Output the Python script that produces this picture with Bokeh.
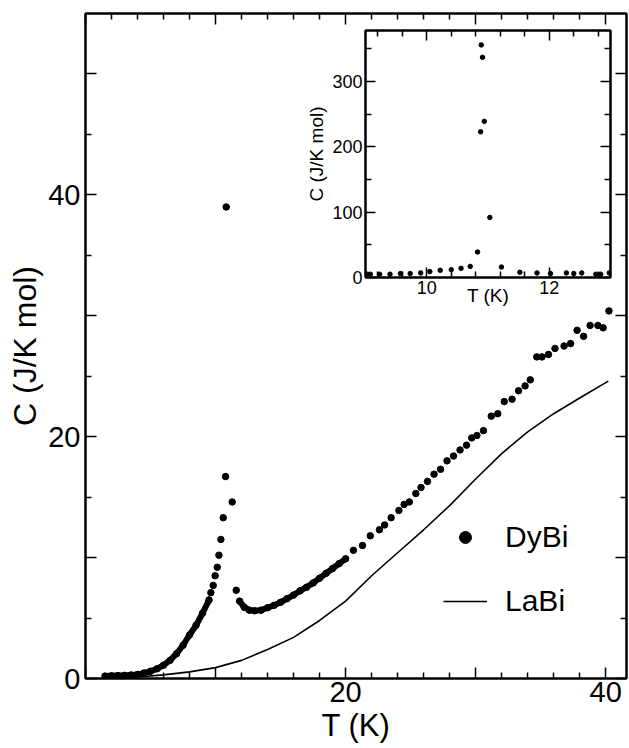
from bokeh.plotting import figure
from bokeh.models import (Range1d, LinearAxis, FixedTicker, Legend, LegendItem,
                          Column, CustomLabelingPolicy)
from bokeh.embed import file_html
from bokeh.resources import INLINE

FONT = "Liberation Sans"

# ---------------- data ----------------
# DyBi, dense low-T branch
dybi_low_T = [1.5, 2.0, 2.5, 3.0, 3.5, 4.0, 4.5, 5.0, 5.5, 6.0, 6.5, 7.0, 7.5, 8.0, 8.5, 9.0, 9.5]
dybi_low_C = [0.20, 0.22, 0.24, 0.26, 0.29, 0.33, 0.45, 0.60, 0.80, 1.10, 1.50, 2.05, 2.75, 3.60, 4.40, 5.40, 6.50]
# DyBi, sparse points around the transition
dybi_peak_T = [9.64, 9.82, 9.97, 10.13, 10.26, 10.41, 10.59, 10.77, 10.82, 11.28, 11.59]
dybi_peak_C = [7.1, 7.7, 8.5, 9.2, 10.2, 11.5, 13.3, 16.7, 39.0, 14.6, 7.3]
# DyBi, dense branch above the transition
dybi_up_T = [11.85, 12.2, 12.6, 13.0, 13.5, 14.0, 14.5, 15.0, 15.5, 16.0, 16.5, 17.0, 17.5, 18.0,
             18.5, 19.0, 19.5, 20.0]
dybi_up_C = [6.4, 5.9, 5.65, 5.6, 5.65, 5.85, 6.05, 6.3, 6.6, 6.9, 7.25, 7.55, 7.9, 8.3,
             8.7, 9.1, 9.5, 9.9]
# DyBi, sparse high-T points
dybi_hi_T = [20.6, 21.3, 21.9, 22.6, 23.0, 23.5, 24.1, 24.5, 24.9, 25.4, 25.8, 26.3, 26.8, 27.3,
             27.8, 28.3, 28.8, 29.3, 29.7, 30.1, 30.6, 31.2, 31.7, 32.2, 32.8, 33.3, 33.8, 34.2,
             34.7, 35.1, 35.6, 36.1, 36.8, 37.3, 37.8, 38.3, 38.8, 39.4, 39.8, 40.25]
dybi_hi_C = [10.6, 11.0, 11.8, 12.3, 12.7, 13.3, 13.9, 14.4, 14.6, 15.3, 15.8, 16.3, 16.9, 17.3,
             18.0, 18.4, 18.9, 19.3, 19.9, 20.1, 20.5, 21.7, 21.9, 22.9, 23.1, 23.8, 24.2, 24.7,
             26.6, 26.6, 26.8, 27.3, 27.5, 27.7, 28.8, 28.3, 29.2, 29.2, 29.0, 30.4]
# LaBi (line)
labi_T = [1.5, 2, 4, 6, 8, 10, 12, 14, 16, 18, 20, 22, 24, 26, 28, 30, 32, 34, 36, 38, 40.2]
labi_C = [0.02, 0.03, 0.12, 0.30, 0.55, 0.90, 1.50, 2.40, 3.40, 4.80, 6.40, 8.50, 10.4, 12.3,
          14.3, 16.5, 18.6, 20.4, 21.9, 23.2, 24.6]
# Inset: DyBi near the transition
inset_T = [9.03, 9.08, 9.23, 9.40, 9.57, 9.73, 9.90, 10.05, 10.22, 10.40, 10.56, 10.71, 10.83,
           10.88, 10.89, 10.91, 10.94, 11.03, 11.22, 11.52, 11.80, 12.02, 12.28, 12.40, 12.53,
           12.76, 12.84, 12.98]
inset_C = [5, 5, 5, 5, 6, 6, 7, 9, 11, 12, 14, 17, 39, 223, 356, 337, 239, 92, 16, 8, 7, 6, 7,
           6, 7, 5, 5, 7]

# ticks and tick labels
main_x_major = [0, 10, 20, 30, 40]
main_x_minor = [2, 4, 6, 8, 12, 14, 16, 18, 22, 24, 26, 28, 32, 34, 36, 38]
main_y_major = [0, 10, 20, 30, 40, 50]
main_y_minor = [5, 15, 25, 35, 45]
main_x_shown = [2, 4]         # indices of main_x_major that carry a label (20, 40)
main_y_shown = [0, 2, 4]      # indices of main_y_major that carry a label (0, 20, 40)
inset_x_major = [10, 12]
inset_x_minor = [9.2, 9.6, 10.4, 10.8, 11.2, 11.6, 12.4, 12.8]
inset_y_major = [0, 100, 200, 300]
inset_y_minor = [50, 150, 250, 350]


def keep_labels(idx):
    return CustomLabelingPolicy(code="return [%s]" % ", ".join(str(i) for i in idx))


def no_labels():
    return CustomLabelingPolicy(code="return null")


def style_axis(ax, major_in, minor_in, font_size, standoff):
    ax.axis_line_color = "black"
    ax.axis_line_width = 2
    ax.major_tick_in = major_in
    ax.major_tick_out = 0
    ax.minor_tick_in = minor_in
    ax.minor_tick_out = 0
    ax.major_tick_line_color = "black"
    ax.minor_tick_line_color = "black"
    ax.major_tick_line_width = 1.5
    ax.minor_tick_line_width = 1.5
    ax.major_label_text_font = FONT
    ax.major_label_text_color = "black"
    ax.major_label_text_font_size = font_size
    ax.major_label_standoff = standoff
    ax.axis_label_text_font = FONT
    ax.axis_label_text_font_style = "normal"
    ax.axis_label_text_color = "black"


def mirror_axis(ticks, minor, major_in, minor_in):
    ax = LinearAxis(ticker=FixedTicker(ticks=ticks, minor_ticks=minor),
                    major_label_policy=no_labels())
    style_axis(ax, major_in, minor_in, "0px", 0)
    return ax


# ---------------- main figure ----------------
BORDER_L, BORDER_R = 85, 3     # shared by main and inset (column aligns plot frames)

p = figure(width=629, height=748, x_range=Range1d(0, 41.6), y_range=Range1d(0, 55),
           output_backend="svg", toolbar_location=None,
           min_border_left=BORDER_L, min_border_right=BORDER_R,
           min_border_top=13, min_border_bottom=70,
           x_axis_label="T (K)", y_axis_label="C (J/K mol)")
p.grid.visible = False
p.outline_line_color = "black"
p.outline_line_width = 2
p.background_fill_color = "white"
p.border_fill_color = "white"

p.xaxis.ticker = FixedTicker(ticks=main_x_major, minor_ticks=main_x_minor)
p.yaxis.ticker = FixedTicker(ticks=main_y_major, minor_ticks=main_y_minor)
style_axis(p.xaxis[0], 11, 6, "29px", 3)
style_axis(p.yaxis[0], 11, 6, "29px", 5)
p.xaxis.major_label_policy = keep_labels(main_x_shown)
p.yaxis.major_label_policy = keep_labels(main_y_shown)
p.xaxis.axis_label_text_font_size = "31px"
p.yaxis.axis_label_text_font_size = "32px"
p.xaxis.axis_label_standoff = 3
p.yaxis.axis_label_standoff = 2

p.add_layout(mirror_axis(main_x_major, main_x_minor, 11, 6), "above")
p.add_layout(mirror_axis(main_y_major, main_y_minor, 11, 6), "right")

# dense branches drawn as thick strokes (overlapping points)
p.line(dybi_low_T, dybi_low_C, line_width=6, line_color="black", line_cap="round")
p.line(dybi_up_T, dybi_up_C, line_width=6, line_color="black", line_cap="round")
all_T = dybi_low_T + dybi_peak_T + dybi_up_T + dybi_hi_T
all_C = dybi_low_C + dybi_peak_C + dybi_up_C + dybi_hi_C
r_dy = p.scatter(all_T, all_C, size=6.5, color="black", marker="circle")
r_la = p.line(labi_T, labi_C, line_width=1.6, line_color="black")

legend = Legend(items=[LegendItem(label="DyBi", renderers=[r_dy]),
                       LegendItem(label="LaBi", renderers=[r_la])],
                location=(358, 60), orientation="vertical",
                glyph_width=44, glyph_height=30, label_height=30, spacing=30,
                label_standoff=18, padding=0, margin=0,
                border_line_color=None, background_fill_alpha=0,
                label_text_font=FONT, label_text_font_size="30px",
                label_text_color="black")
p.add_layout(legend, "center")

# ---------------- inset ----------------
ib_t, ib_b = 4, 42
fw, fh = 245, 247
inset = figure(width=BORDER_L + fw + BORDER_R, height=ib_t + fh + ib_b,
               x_range=Range1d(9.0, 13.0), y_range=Range1d(0, 378),
               output_backend="svg", toolbar_location=None,
               min_border_left=BORDER_L, min_border_right=BORDER_R,
               min_border_top=ib_t, min_border_bottom=ib_b,
               x_axis_label="T (K)", y_axis_label="C (J/K mol)")
inset.grid.visible = False
inset.outline_line_color = "black"
inset.outline_line_width = 2
inset.background_fill_color = "white"
inset.border_fill_color = None
inset.xaxis.ticker = FixedTicker(ticks=inset_x_major, minor_ticks=inset_x_minor)
inset.yaxis.ticker = FixedTicker(ticks=inset_y_major, minor_ticks=inset_y_minor)
style_axis(inset.xaxis[0], 10, 6, "18px", 3)
style_axis(inset.yaxis[0], 10, 6, "18px", 3)
inset.xaxis.axis_label_text_font_size = "19px"
inset.yaxis.axis_label_text_font_size = "19px"
inset.xaxis.axis_label_standoff = -12
inset.yaxis.axis_label_standoff = 2
inset.add_layout(mirror_axis(inset_x_major, inset_x_minor, 10, 6), "above")
inset.add_layout(mirror_axis(inset_y_major, inset_y_minor, 10, 6), "right")
inset.scatter(inset_T, inset_C, size=4.5, color="black", marker="circle")

inset.styles = {"position": "absolute", "left": f"{365 - BORDER_L}px", "top": f"{30 - ib_t}px"}

root = Column(children=[p, inset], styles={"position": "relative"})

open("out.html", "w").write(file_html(root, INLINE))
